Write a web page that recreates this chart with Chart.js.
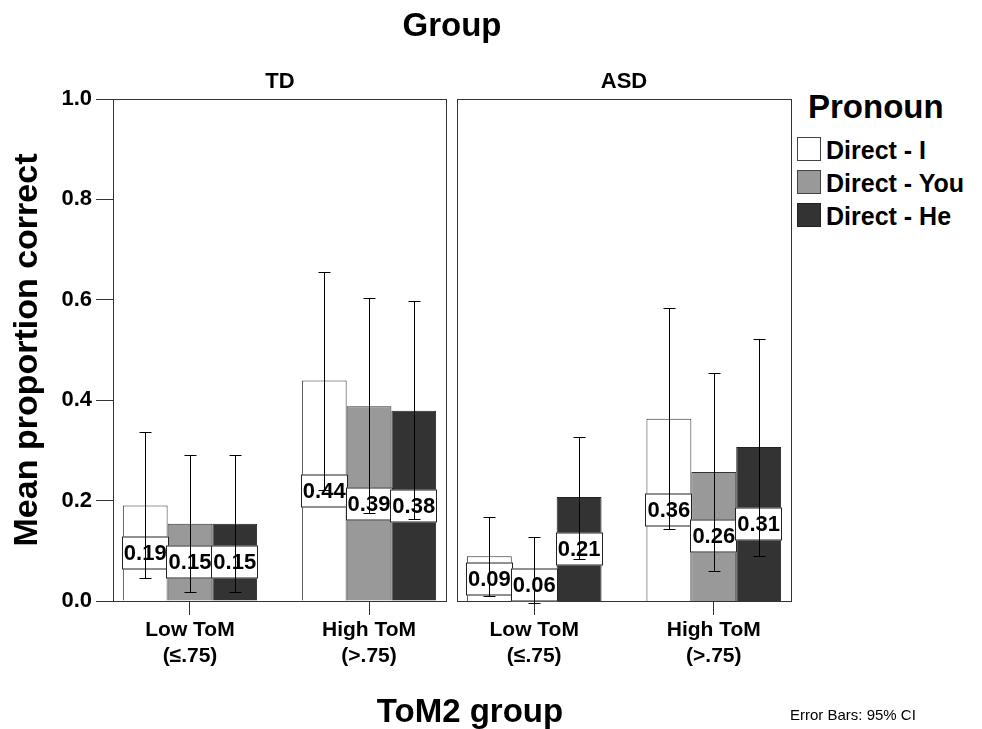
<!DOCTYPE html>
<html>
<head>
<meta charset="utf-8">
<script src="https://cdn.jsdelivr.net/npm/chart.js@4/dist/chart.umd.min.js"></script>
<style>
    body { margin: 0; background: #fff; font-family: 'Liberation Sans', Arial, sans-serif; }
    #wrap { position: relative; width: 982px; height: 729px; overflow: hidden; background: #fff; }
    canvas { position: absolute; top: 0; }
    .txt { position: absolute; line-height: 1; white-space: nowrap; color: #000; }
    .big { font-size: 33px; font-weight: bold; }
    .panel { font-size: 22px; font-weight: bold; transform: translateX(-50%); }
    .swatch { position: absolute; left: 797px; width: 24px; height: 24px; box-sizing: border-box; border: 1px solid #444; }
    .item { font-size: 25px; font-weight: bold; left: 826px; }
</style>
</head>
<body>
<div id="wrap">
    <canvas id="tdChart" width="452" height="729" style="left:0"></canvas>
    <canvas id="asdChart" width="345" height="729" style="left:452px"></canvas>

    <div class="txt big" style="left:452px; top:8px; transform:translateX(-50%)">Group</div>
    <div class="txt panel" style="left:280px; top:70px">TD</div>
    <div class="txt panel" style="left:624px; top:70px">ASD</div>

    <div class="txt big" style="left:808px; top:90px">Pronoun</div>
    <div class="swatch" style="top:137px; background:#ffffff"></div>
    <div class="swatch" style="top:170px; background:#999999"></div>
    <div class="swatch" style="top:203px; background:#333333; border-color:#222"></div>
    <div class="txt item" style="top:138px">Direct - I</div>
    <div class="txt item" style="top:171px">Direct - You</div>
    <div class="txt item" style="top:204px">Direct - He</div>

    <div class="txt big" style="left:470px; top:694px; transform:translateX(-50%)">ToM2 group</div>
    <div class="txt" style="left:790px; top:707px; font-size:15px">Error Bars: 95% CI</div>
</div>

<script>
// categories on the x axis (two lines each)
const categories = [['Low ToM', '(≤.75)'], ['High ToM', '(>.75)']];
const pronouns = ['Direct - I', 'Direct - You', 'Direct - He'];
const yTicks = [0, 0.2, 0.4, 0.6, 0.8, 1.0];

// mean proportion correct, [Low ToM, High ToM]
const tdDirectI = [0.19, 0.439];
const tdDirectYou = [0.154, 0.388];
const tdDirectHe = [0.154, 0.379];
const asdDirectI = [0.089, 0.363];
const asdDirectYou = [0.063, 0.257];
const asdDirectHe = [0.207, 0.307];

// 95% CI as [lower, upper], [Low ToM, High ToM]
const tdCiI = [[0.045, 0.336], [0.222, 0.655]];
const tdCiYou = [[0.017, 0.291], [0.175, 0.604]];
const tdCiHe = [[0.017, 0.291], [0.163, 0.597]];
const asdCiI = [[0.009, 0.168], [0.144, 0.584]];
const asdCiYou = [[-0.003, 0.128], [0.06, 0.455]];
const asdCiHe = [[0.083, 0.327], [0.09, 0.521]];

const barFill = ['#ffffff', '#999999', '#333333'];
const barEdge = ['#333333', '#333333', '#222222'];
const fontFamily = "'Liberation Sans', Arial, sans-serif";

const annotatePlugin = {
    id: 'annotate',
    afterDatasetsDraw(chart) {
        const { ctx, chartArea: a } = chart;
        const y = chart.scales.y;

        // panel frame
        ctx.save();
        ctx.strokeStyle = '#333';
        ctx.lineWidth = 1;
        ctx.strokeRect(Math.round(a.left) + 0.5, Math.round(a.top) + 0.5,
            Math.round(a.right - a.left), Math.round(a.bottom - a.top));

        // value labels in white boxes at half bar height
        ctx.font = 'bold 22px ' + fontFamily;
        ctx.textAlign = 'center';
        ctx.textBaseline = 'middle';
        chart.data.datasets.forEach((ds, di) => {
            chart.getDatasetMeta(di).data.forEach((bar, i) => {
                const v = ds.data[i].y;
                const text = v.toFixed(2);
                const cy = Math.round(y.getPixelForValue(v / 2));
                const w = Math.round(Math.max(bar.width, ctx.measureText(text).width + 4));
                const h = 33;
                const left = Math.round(bar.x - w / 2);
                ctx.fillStyle = '#fff';
                ctx.fillRect(left, cy - h / 2, w, h);
                ctx.strokeStyle = '#222';
                ctx.strokeRect(left + 0.5, cy - h / 2 + 0.5, w - 1, h - 1);
                ctx.fillStyle = '#000';
                ctx.fillText(text, bar.x, cy + 1);
            });
        });

        // error bars
        ctx.strokeStyle = '#000';
        chart.data.datasets.forEach((ds, di) => {
            chart.getDatasetMeta(di).data.forEach((bar, i) => {
                const [lo, hi] = ds.ci[i];
                const x = Math.round(bar.x) + 0.5;
                const yl = Math.round(y.getPixelForValue(lo)) + 0.5;
                const yh = Math.round(y.getPixelForValue(hi)) + 0.5;
                ctx.beginPath();
                ctx.moveTo(x, yl); ctx.lineTo(x, yh);
                ctx.moveTo(x - 6, yl); ctx.lineTo(x + 6, yl);
                ctx.moveTo(x - 6, yh); ctx.lineTo(x + 6, yh);
                ctx.stroke();
            });
        });
        ctx.restore();
    }
};

function makeDatasets(means, cis) {
    return means.map((vals, k) => ({
        label: pronouns[k],
        data: vals.map((v, i) => ({ x: i, y: v })),
        ci: cis[k],
        backgroundColor: barFill[k],
        borderColor: barEdge[k],
        borderWidth: 1,
        barPercentage: 1,
        categoryPercentage: 0.75
    }));
}

function createPanel(id, means, cis, showY, padding) {
    const ctx = document.getElementById(id);
    new Chart(ctx, {
        type: 'bar',
        data: { datasets: makeDatasets(means, cis) },
        options: {
            responsive: false,
            animation: false,
            devicePixelRatio: 1,
            layout: { padding: padding },
            scales: {
                x: {
                    type: 'linear',
                    min: -0.43,
                    max: 1.43,
                    bounds: 'data',
                    offset: false,
                    afterBuildTicks: s => { s.ticks = categories.map((c, i) => ({ value: i })); },
                    afterFit: s => { s.height = 128; },
                    grid: { drawOnChartArea: false, offset: false, tickLength: 14, color: '#333' },
                    border: { display: false },
                    ticks: {
                        color: '#000',
                        font: { family: fontFamily, size: 21, weight: 'bold', lineHeight: 1.2 },
                        padding: 3,
                        maxRotation: 0,
                        autoSkip: false,
                        callback: v => categories[v]
                    }
                },
                y: {
                    display: showY,
                    min: 0,
                    max: 1,
                    afterBuildTicks: s => { s.ticks = yTicks.map(v => ({ value: v })); },
                    afterFit: s => { s.width = showY ? 113 : 0; },
                    grid: { drawOnChartArea: false, tickLength: 17, color: '#333' },
                    border: { display: false },
                    ticks: {
                        color: '#000',
                        font: { family: fontFamily, size: 22, weight: 'bold' },
                        padding: 4,
                        callback: v => v.toFixed(1)
                    },
                    title: {
                        display: showY,
                        text: 'Mean proportion correct',
                        color: '#000',
                        font: { family: fontFamily, size: 34, weight: 'bold' },
                        padding: { top: 7, bottom: 0 }
                    }
                }
            },
            plugins: {
                legend: { display: false },
                tooltip: { enabled: false }
            }
        },
        plugins: [annotatePlugin]
    });
}

createPanel('tdChart', [tdDirectI, tdDirectYou, tdDirectHe], [tdCiI, tdCiYou, tdCiHe], true,
    { top: 99, left: 0, right: 6, bottom: 0 });
createPanel('asdChart', [asdDirectI, asdDirectYou, asdDirectHe], [asdCiI, asdCiYou, asdCiHe], false,
    { top: 99, left: 5, right: 6, bottom: 0 });
</script>
</body>
</html>
